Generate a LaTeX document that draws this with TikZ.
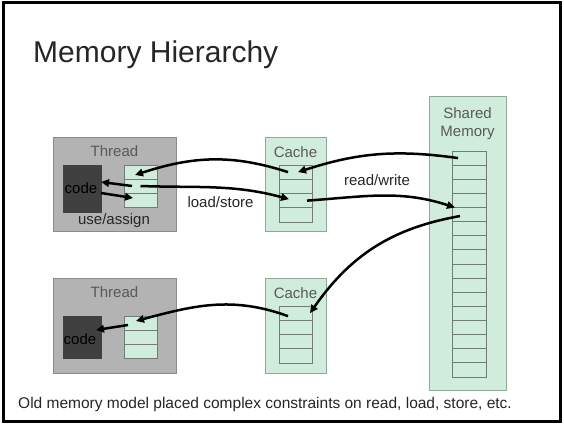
\documentclass[tikz,border=0pt]{standalone}
\usepackage{fontspec}
\setmainfont{Liberation Sans}
\usetikzlibrary{arrows.meta}

\definecolor{threadfill}{HTML}{B3B3B3}
\definecolor{threadline}{HTML}{8A8A8A}
\definecolor{codefill}{HTML}{404040}
\definecolor{mint}{HTML}{D0ECDC}
\definecolor{mintline}{HTML}{8FA898}
\definecolor{cellline}{HTML}{6F7D75}
\definecolor{labelgray}{HTML}{595959}
\definecolor{ink}{HTML}{262626}

\tikzset{
  box/.style={rectangle, inner sep=0pt, outer sep=0pt, anchor=north west, line width=0.8pt},
  threadbox/.style={box, draw=threadline, fill=threadfill},
  greenbox/.style={box, draw=mintline, fill=mint},
  codebox/.style={box, fill=codefill, draw=codefill},
  cell/.style={box, draw=cellline, fill=mint, minimum width=33pt},
  label/.style={inner sep=0pt, anchor=base, font=\fontsize{15}{18}\selectfont, text=labelgray},
  note/.style={inner sep=0pt, anchor=base, font=\fontsize{15}{18}\selectfont, text=ink},
  codetext/.style={inner sep=0pt, anchor=base, font=\fontsize{15}{18}\selectfont, text=black},
  flow/.style={line width=2.5pt, -{Triangle[length=8pt,width=7.5pt]}},
}

\begin{document}
\begin{tikzpicture}[x=1pt,y=1pt]
\useasboundingbox (0,0) rectangle (564,424);
\fill[white] (0,0) rectangle (564,424);
\draw[line width=3pt] (3.5,3) rectangle (560.5,421);

% title and footnote
\node[anchor=base west, inner sep=0pt, font=\fontsize{30}{36}\selectfont, text=ink] (title) at (33,361) {Memory Hierarchy};
\node[anchor=base west, inner sep=0pt, font=\fontsize{15.5}{18}\selectfont, text=ink] (footer) at (18,16) {Old memory model placed complex constraints on read, load, store, etc.};

% containers
\node[threadbox, minimum width=123pt, minimum height=94pt] (thread1) at (53,287) {};
\node[codebox, minimum width=38pt, minimum height=47pt] (code1) at (63,259) {};
\node[greenbox, minimum width=61pt, minimum height=94pt] (cache1) at (265,287) {};
\node[threadbox, minimum width=123pt, minimum height=95pt] (thread2) at (53,146) {};
\node[codebox, minimum width=38pt, minimum height=42pt] (code2) at (63,108) {};
\node[greenbox, minimum width=61pt, minimum height=95pt] (cache2) at (265,146) {};
\node[greenbox, minimum width=77pt, minimum height=294pt] (shared) at (429,328) {};

% register / cache / memory cells
\foreach \i in {1,2,3} {
  \node[cell, minimum height=14pt] (ta\i) at (124,{259-(\i-1)*14}) {};
  \node[cell, minimum height=14pt] (tb\i) at (124,{108-(\i-1)*14}) {};
}
\foreach \i in {1,2,3,4} {
  \node[cell, minimum height=14.25pt] (ca\i) at (279,{259-(\i-1)*14.25}) {};
  \node[cell, minimum height=14.25pt] (cb\i) at (279,{118-(\i-1)*14.25}) {};
}
\foreach \i in {1,...,16} {
  \node[cell, minimum width=34pt, minimum height=14.125pt] (sm\i) at (452,{273-(\i-1)*14.125}) {};
}

% labels
\node[label] (th1) at (114.5,268) {Thread};
\node[label] (th2) at (114.5,127) {Thread};
\node[label] (cl1) at (295.5,267) {Cache};
\node[label] (cl2) at (295.5,126) {Cache};
\node[label] (sh1) at (467.5,306) {Shared};
\node[label] (sh2) at (467.5,288) {Memory};
\node[codetext] (cd1) at (81,231) {code};
\node[codetext] (cd2) at (80,80) {code};
\node[note] (ua) at (114,200) {use/assign};
\node[note] (ls) at (220.5,217) {load/store};
\node[note] (rw) at (377,239) {read/write};

% data movement
\draw[flow] ([xshift=-11pt]sm1.center) to[out=172,in=18] ([xshift=2.5pt]ca1.center);
\draw[flow] ([xshift=-7.5pt]ca1.center) to[out=162,in=18] ([xshift=-5.5pt,yshift=-3pt]ta1.center);
\draw[flow] ([xshift=-8.5pt]ta2.center) -- ([yshift=6.5pt]code1.east);
\draw[flow] ([yshift=-4.5pt]code1.east) -- ([xshift=-7.5pt,yshift=2pt]ta3.center);
\draw[flow] (ta2.center) to[out=-2,in=165] ([xshift=-6.5pt,yshift=1.5pt]ca3.center);
\draw[flow] ([xshift=11.5pt]ca3.center) to[out=4,in=162] ([xshift=-14pt]sm4.south);
\draw[flow] ([xshift=-9pt,yshift=-1.5pt]sm5.center) to[out=190,in=55] ([xshift=14.5pt]cb1.center);
\draw[flow] ([xshift=-7.5pt,yshift=-3pt]cb1.center) to[out=160,in=15] ([xshift=-4.5pt,yshift=2pt]tb1.center);
\draw[flow] ([xshift=-12.5pt,yshift=-2pt]tb1.center) -- ([xshift=-5pt,yshift=7pt]code2.east);
\end{tikzpicture}
\end{document}
